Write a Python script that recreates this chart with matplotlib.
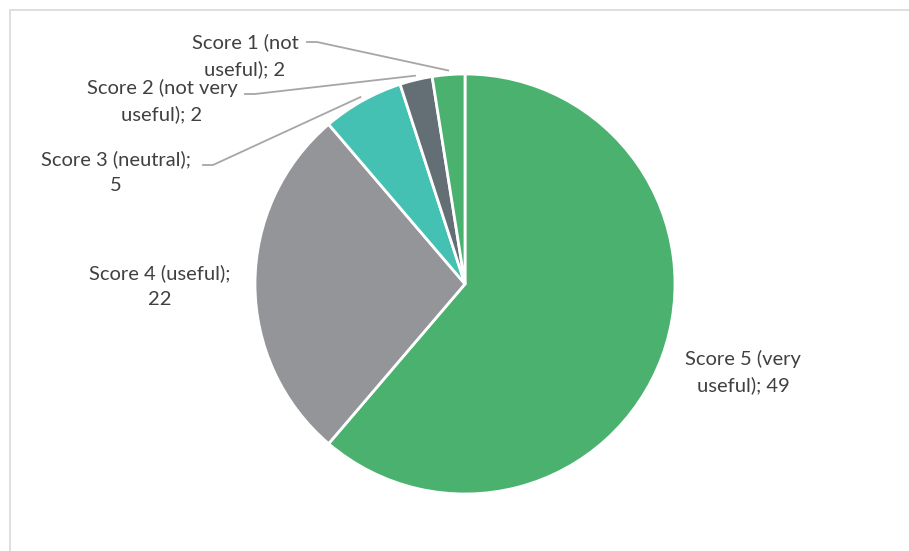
import matplotlib.pyplot as plt
import numpy as np
from matplotlib.lines import Line2D
from matplotlib.patches import Rectangle

# data
labels = ["Score 5 (very\nuseful); 49", "Score 4 (useful);\n22", "Score 3 (neutral);\n5",
          "Score 2 (not very\nuseful); 2", "Score 1 (not\nuseful); 2"]
values = [49, 22, 5, 2, 2]
colors = ["#4AB26E", "#939598", "#45C1B4", "#646E75", "#4AB26E"]

W, H = 909, 551
fig = plt.figure(figsize=(W / 100, H / 100), dpi=100)
plt.rcParams['font.family'] = ['Lato', 'DejaVu Sans']

# chart frame (only top and left edges visible)
fig.patches.append(Rectangle((10 / W, -0.1), 1.2, 1.1 - 10 / H, transform=fig.transFigure,
                             fill=False, edgecolor="#D9D9D9", linewidth=1.2))

cx, cy, r = 465, 284, 210
ax = fig.add_axes([(cx - r) / W, (H - cy - r) / H, 2 * r / W, 2 * r / H])
wedges, _ = ax.pie(values, colors=colors, startangle=90, counterclock=False,
                   wedgeprops=dict(edgecolor="white", linewidth=2))
ax.set_xlim(-1, 1)
ax.set_ylim(-1, 1)
ax.set_aspect("equal")
ax.axis("off")

# label positions in pixels (centre of text block), leader start x
label_pos = [(743, 372, None), (160, 286, None), (116, 172, 203),
             (162, 101, 245), (245, 56, 307)]
leader_y = [None, None, 165, 94, 42]

def px_to_fig(x, y):
    return x / W, 1 - y / H

for i, (w, lab) in enumerate(zip(wedges, labels)):
    lx, ly, sx = label_pos[i]
    fx, fy = px_to_fig(lx, ly)
    fig.text(fx, fy, lab, ha="center", va="center", fontsize=14.5, color="#404040",
             linespacing=1.6)
    if sx is not None:
        ang = np.deg2rad((w.theta1 + w.theta2) / 2)
        px, py = ax.transData.transform((1.02 * np.cos(ang), 1.02 * np.sin(ang)))
        px, py = px, H - py
        yy = leader_y[i]
        xs = [sx, sx + 10, px]
        ys = [yy, yy, py]
        fig.lines.append(Line2D([x / W for x in xs], [1 - y / H for y in ys],
                                transform=fig.transFigure, color="#A6A6A6", linewidth=1.3))

fig.savefig("out.png", dpi=100)
